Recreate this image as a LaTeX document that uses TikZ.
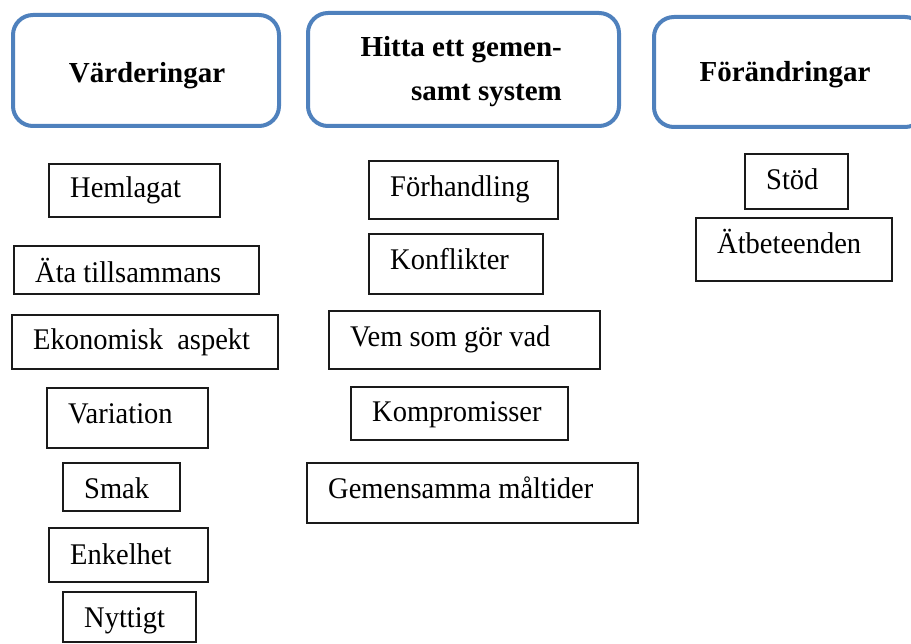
\documentclass[tikz,border=0pt]{standalone}
\usepackage{fontspec}
\setmainfont{Liberation Serif}
\newfontfamily\itemface{Liberation Serif}[FakeStretch=0.95]
\definecolor{headblue}{HTML}{4F81BD}
\definecolor{frameblack}{HTML}{1A1A1A}
\newcommand{\itemfont}{\itemface\fontsize{30}{34}\selectfont}
\newcommand{\headfont}{\fontsize{29}{44}\selectfont\bfseries}
\newcommand{\itembox}[7]{%
  \draw[itemframe] (#2,#3) rectangle (#4,#5);
  \node[anchor=base west,inner sep=0pt] (#1) at (#2+21,#6) {\itemfont #7};
}
\newcommand{\headbox}[4]{%
  \draw[headframe] (#1,#2) rectangle (#3,#4);
}

\begin{document}
\begin{tikzpicture}[x=1pt,y=-1pt,
    itemframe/.style={draw=frameblack,line width=1.5pt},
    headframe/.style={draw=headblue,line width=4pt,rounded corners=20pt}]
  \useasboundingbox (0,0) rectangle (911,644);
  \clip (0,0) rectangle (911,644);

  % headings
  \headbox{13}{15}{279}{126}
  \headbox{308}{13}{619}{126}
  \headbox{654}{17}{925}{127}
  \node[anchor=base,inner sep=0pt] (vard) at (147,83) {\headfont Värderingar};
  \node[anchor=base east,inner sep=0pt] (hitta1) at (562,57) {\headfont Hitta ett gemen-};
  \node[anchor=base east,inner sep=0pt] (hitta2) at (562,101) {\headfont samt system};
  \node[anchor=base,inner sep=0pt] (forand) at (785,82) {\headfont Förändringar};

  % Värderingar
  \itembox{hemlagat}{49}{164}{220}{217}{198}{Hemlagat}
  \itembox{ata}{14}{246}{259}{294}{283}{Äta tillsammans}
  \itembox{ekonomi}{12}{315}{278}{369}{350}{Ekonomisk~ aspekt}
  \itembox{variation}{47}{388}{208}{448}{424}{Variation}
  \itembox{smak}{63}{463}{180}{511}{498}{Smak}
  \itembox{enkelhet}{49}{528}{208}{582}{564}{Enkelhet}
  \itembox{nyttigt}{63}{592}{196}{642}{627}{Nyttigt}

  % Hitta ett gemensamt system
  \itembox{forhandling}{369}{161}{558}{219}{197}{Förhandling}
  \itembox{konflikter}{369}{234}{543}{294}{270}{Konflikter}
  \itembox{vem}{329}{311}{600}{369}{347}{Vem som gör vad}
  \itembox{kompromiss}{351}{387}{568}{440}{422}{Kompromisser}
  \itembox{maltider}{307}{463}{638}{523}{498}{Gemensamma måltider}

  % Förändringar
  \itembox{stod}{745}{154}{848}{209}{190}{Stöd}
  \itembox{atbeteende}{696}{218}{892}{281}{254}{Ätbeteenden}
\end{tikzpicture}
\end{document}
